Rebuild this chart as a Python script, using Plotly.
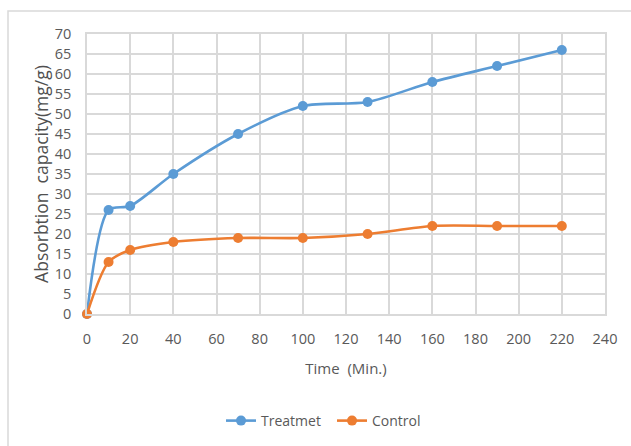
import plotly.graph_objects as go

# Sampling times (minutes) and measured absorption capacity (mg/g)
time_min = [0, 10, 20, 40, 70, 100, 130, 160, 190, 220]
treatmet = [0, 26, 27, 35, 45, 52, 53, 58, 62, 66]
control = [0, 13, 16, 18, 19, 19, 20, 22, 22, 22]

x_ticks = list(range(0, 241, 20))
y_ticks = list(range(0, 71, 5))

BLUE = "#5b9bd5"
ORANGE = "#ed7d31"
GRID = "#d9d9d9"
TEXT = "#595959"
FONT = "Open Sans"

fig = go.Figure()
fig.add_trace(go.Scatter(
    x=time_min, y=treatmet, name="Treatmet", mode="lines+markers",
    line=dict(color=BLUE, width=2.6, shape="spline", smoothing=0.8),
    marker=dict(color=BLUE, size=10), cliponaxis=False,
))
fig.add_trace(go.Scatter(
    x=time_min, y=control, name="Control", mode="lines+markers",
    line=dict(color=ORANGE, width=2.6, shape="spline", smoothing=0.8),
    marker=dict(color=ORANGE, size=10), cliponaxis=False,
))

axis_common = dict(
    showgrid=True, gridcolor=GRID, gridwidth=1.5,
    showline=True, linecolor=GRID, linewidth=1.5, mirror=True,
    zeroline=False, ticks="", automargin=False,
    tickfont=dict(family=FONT, size=14.5, color=TEXT),
)

fig.update_xaxes(
    range=[0, 240], tickvals=x_ticks, ticklabelstandoff=11,
    title=dict(text="Time  (Min.)", font=dict(family=FONT, size=15, color=TEXT), standoff=16),
    **axis_common,
)
fig.update_yaxes(
    range=[0, 70], tickvals=y_ticks, ticklabelstandoff=11,
    title=dict(text="Absorbtion  capacity(mg/g)",
               font=dict(family=FONT, size=17.5, color="#505050"), standoff=2),
    **axis_common,
)

# Outer chart frame
fig.add_shape(type="rect", xref="paper", yref="paper",
              x0=(8 - 87) / 518, x1=(640 - 87) / 518,
              y0=-(460 - 314) / 280, y1=1 + (34 - 11) / 280,
              line=dict(color=GRID, width=1.5), layer="below")

fig.update_layout(
    width=631, height=446,
    margin=dict(l=87, r=26, t=34, b=132, autoexpand=False),
    paper_bgcolor="white", plot_bgcolor="white",
    font=dict(family=FONT, color=TEXT),
    showlegend=True,
    legend=dict(orientation="h", x=0.473, xanchor="center",
                yref="container", y=(446 - 421) / 446, yanchor="middle",
                font=dict(family=FONT, size=14, color=TEXT),
                itemwidth=30, entrywidth=66, entrywidthmode="pixels"),
)

fig.write_html("out.html")
